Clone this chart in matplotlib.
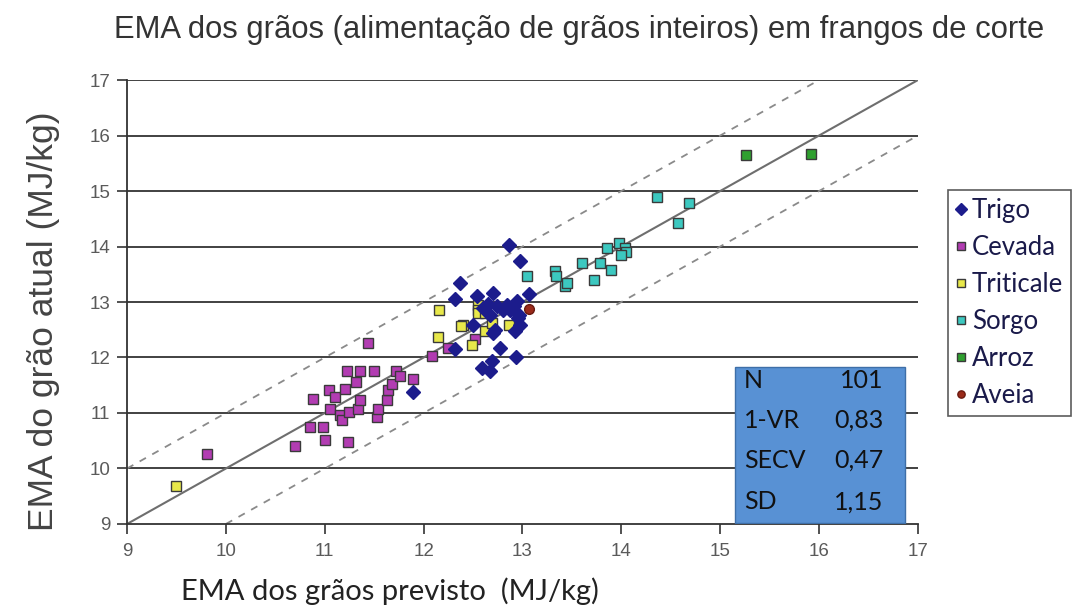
import matplotlib
matplotlib.use("Agg")
import matplotlib.pyplot as plt
from matplotlib.patches import Rectangle

# Predicted vs. actual AME (MJ/kg) per grain type
trigo_x = [11.89, 12.32, 12.37, 12.32, 12.54, 12.70, 13.07, 12.86, 12.97, 12.65,
           12.74, 12.84, 12.91, 12.94, 12.87, 12.67, 12.96, 12.97, 12.92, 12.50,
           12.70, 12.77, 12.93, 12.59, 12.69, 12.67, 12.60, 12.80, 12.95, 12.72]
trigo_y = [11.38, 12.15, 13.35, 13.05, 13.11, 13.16, 13.14, 14.03, 13.74, 12.97,
           12.92, 12.95, 12.92, 13.01, 12.86, 12.77, 12.77, 12.59, 12.47, 12.59,
           12.44, 12.17, 12.01, 11.81, 11.93, 11.75, 12.90, 12.85, 12.71, 12.50]

cevada_x = [9.81, 10.70, 10.85, 10.88, 10.98, 11.00, 11.04, 11.05, 11.10, 11.15,
            11.17, 11.20, 11.22, 11.24, 11.25, 11.32, 11.34, 11.36, 11.36, 11.44,
            11.50, 11.53, 11.54, 11.63, 11.64, 11.68, 11.72, 11.76, 11.89, 12.08,
            12.25, 12.52]
cevada_y = [10.27, 10.41, 10.75, 11.26, 10.75, 10.51, 11.41, 11.08, 11.29, 10.96,
            10.87, 11.44, 11.76, 10.48, 11.02, 11.56, 11.08, 11.76, 11.23, 12.26,
            11.76, 10.93, 11.08, 11.23, 11.41, 11.53, 11.76, 11.67, 11.61, 12.03,
            12.17, 12.33]

triticale_x = [9.50, 12.16, 12.15, 12.40, 12.49, 12.55, 12.55, 12.55, 12.62, 12.62,
               12.69, 12.86, 12.38]
triticale_y = [9.68, 12.85, 12.37, 12.59, 12.23, 12.95, 12.86, 12.80, 12.80, 12.47,
               12.62, 12.59, 12.56]

sorgo_x = [13.05, 13.33, 13.34, 13.43, 13.45, 13.60, 13.72, 13.78, 13.90, 13.85,
           13.98, 14.04, 14.05, 14.00, 14.36, 14.68, 14.57]
sorgo_y = [13.46, 13.55, 13.46, 13.28, 13.35, 13.70, 13.40, 13.71, 13.58, 13.97,
           14.06, 13.97, 13.91, 13.85, 14.90, 14.79, 14.43]

arroz_x = [15.26, 15.92]
arroz_y = [15.65, 15.67]

aveia_x = [13.07]
aveia_y = [12.87]

stat_names = ["N", "1-VR", "SECV", "SD"]
stat_values = ["101", "0,83", "0,47", "1,15"]

ticks = [9, 10, 11, 12, 13, 14, 15, 16, 17]
tick_labels = [str(t) for t in ticks]

fig = plt.figure(figsize=(10.83, 6.09), dpi=100)
ax = fig.add_axes([0.1173, 0.1396, 0.7303, 0.7290])
ax.set_xlim(9, 17)
ax.set_ylim(9, 17)

# horizontal grid
for t in ticks[1:]:
    ax.axhline(t, color="#333333", lw=1.3, zorder=1)

# identity and +/-1 MJ/kg bands
ax.plot([9, 17], [9, 17], color="#6e6e6e", lw=1.5, zorder=2)
ax.plot([9, 16], [10, 17], color="#8a8a8a", lw=1.3, ls=(0, (4, 4)), zorder=2)
ax.plot([10, 17], [9, 16], color="#8a8a8a", lw=1.3, ls=(0, (4, 4)), zorder=2)

sq = dict(marker="s", ms=7.3, mew=1.0, mec="#3a3a3a", ls="none", zorder=3)
ax.plot(cevada_x, cevada_y, mfc="#b23cb2", label="Cevada", **sq)
ax.plot(triticale_x, triticale_y, mfc="#e8e84a", label="Triticale", **sq)
ax.plot(sorgo_x, sorgo_y, mfc="#3cc8c0", label="Sorgo", **sq)
ax.plot(arroz_x, arroz_y, mfc="#2fa02f", label="Arroz", **sq)
ax.plot(trigo_x, trigo_y, marker="D", ms=7.5, mfc="#1c1c8c", mec="#1c1c8c",
        ls="none", zorder=4, label="Trigo")
ax.plot(aveia_x, aveia_y, marker="o", ms=7, mfc="#9a2a1a", mec="#6a1a10",
        ls="none", zorder=4, label="Aveia")

tick_font = dict(fontsize=13.5, family="Liberation Sans", color="#5a5a5a")
ax.set_xticks(ticks)
ax.set_xticklabels(tick_labels, **tick_font)
ax.set_yticks(ticks)
ax.set_yticklabels(tick_labels, **tick_font)
ax.tick_params(direction="out", length=7, width=1.2, color="#333333")
ax.tick_params(axis="x", pad=7)
ax.tick_params(axis="y", pad=5)
for s in ["top", "right"]:
    ax.spines[s].set_visible(False)
for s in ["left", "bottom"]:
    ax.spines[s].set_color("#333333")
    ax.spines[s].set_linewidth(1.3)

# statistics box
ax.add_patch(Rectangle((0.769, 0.003), 0.215, 0.351, transform=ax.transAxes,
                       facecolor="#5891d4", edgecolor="#3e6fa8", lw=1.0, zorder=5))
row_y = [0.324, 0.234, 0.144, 0.050]
for nm, val, yy in zip(stat_names, stat_values, row_y):
    ax.text(0.780, yy, nm, transform=ax.transAxes, fontsize=18, family="Lato",
            va="center", ha="left", color="#111111", zorder=6)
    ax.text(0.956, yy, val, transform=ax.transAxes, fontsize=18, family="Lato",
            va="center", ha="right", color="#111111", zorder=6)

# legend
handles, labels = ax.get_legend_handles_labels()
order = ["Trigo", "Cevada", "Triticale", "Sorgo", "Arroz", "Aveia"]
hmap = dict(zip(labels, handles))
leg = fig.legend([hmap[k] for k in order], order, loc="upper left",
                 bbox_to_anchor=(0.875, 0.688), frameon=True, fancybox=False,
                 edgecolor="#333333", prop={"family": "Lato", "size": 18.5},
                 handlelength=0.45, handletextpad=0.2, labelspacing=0.47,
                 borderpad=0.3, markerscale=0.75, borderaxespad=0)
leg.get_frame().set_linewidth(1.2)
for t in leg.get_texts():
    t.set_color("#1a1a4a")

fig.text(0.535, 0.951, "EMA dos grãos (alimentação de grãos inteiros) em frangos de corte",
         ha="center", va="center", fontsize=22.3, family="Liberation Sans", color="#333333")
fig.text(0.040, 0.472, "EMA do grão atual (MJ/kg)", rotation=90, ha="center",
         va="center", fontsize=25.5, family="Liberation Sans", color="#444444")
fig.text(0.360, 0.030, "EMA dos grãos previsto  (MJ/kg)", ha="center", va="center",
         fontsize=21, family="Lato", color="#222222")

fig.savefig("out.png", dpi=100, facecolor="white")
